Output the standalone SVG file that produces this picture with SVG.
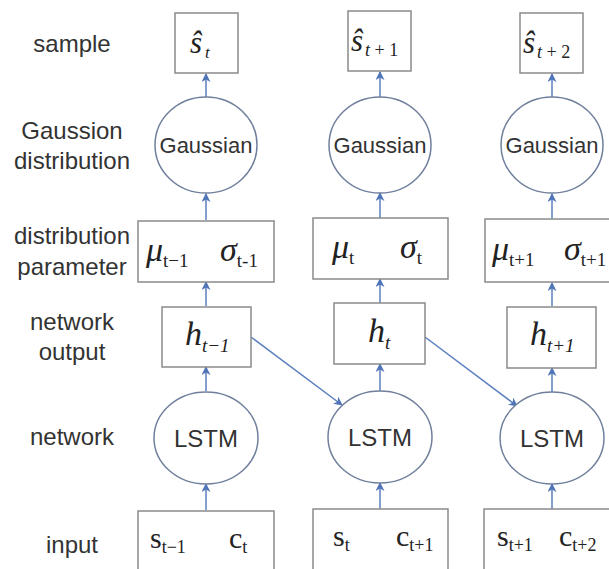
<svg xmlns="http://www.w3.org/2000/svg" width="609" height="569" viewBox="0 0 609 569">
<style>
.lbl{font-family:"Liberation Sans",Arial,sans-serif;font-size:24px;fill:#333;text-anchor:middle}
.box{fill:#fff;stroke:#8a8a8a;stroke-width:1.5}
.cir{fill:#fff;stroke:#6f7f9c;stroke-width:1.5}
.ct{font-family:"Liberation Sans",Arial,sans-serif;fill:#333;text-anchor:middle}
.m{font-family:"Liberation Serif","Times New Roman",serif;fill:#222}
.i{font-style:italic}
.con{stroke:#5b7fbf;stroke-width:1.5;fill:none;marker-end:url(#ah)}
</style>
<defs>
<marker id="ah" viewBox="0 0 10 10" refX="9" refY="5" markerWidth="9" markerHeight="9" markerUnits="userSpaceOnUse" orient="auto">
<path d="M0,0 L10,5 L0,10 L3,5 z" fill="#4f75b8"/>
</marker>
</defs>
<rect width="609" height="569" fill="#fff"/>
<g id="labels">
<text class="lbl" x="72" y="52">sample</text>
<text class="lbl" x="72" y="139">Gaussion</text>
<text class="lbl" x="72" y="169">distribution</text>
<text class="lbl" x="72" y="244">distribution</text>
<text class="lbl" x="72" y="275">parameter</text>
<text class="lbl" x="72" y="330">network</text>
<text class="lbl" x="72" y="360">output</text>
<text class="lbl" x="72" y="445">network</text>
<text class="lbl" x="72" y="553">input</text>
</g>
<g id="connectors">
<line class="con" x1="206" y1="97" x2="206" y2="74"/>
<line class="con" x1="206" y1="220" x2="206" y2="194"/>
<line class="con" x1="206" y1="306" x2="206" y2="282"/>
<line class="con" x1="206" y1="391" x2="206" y2="367"/>
<line class="con" x1="206" y1="510" x2="206" y2="484"/>
<line class="con" x1="380" y1="97" x2="380" y2="72"/>
<line class="con" x1="380" y1="218" x2="380" y2="193"/>
<line class="con" x1="380" y1="303" x2="380" y2="279"/>
<line class="con" x1="380" y1="391" x2="380" y2="364"/>
<line class="con" x1="380" y1="509" x2="380" y2="483"/>
<line class="con" x1="552" y1="97" x2="552" y2="74"/>
<line class="con" x1="552" y1="219" x2="552" y2="194"/>
<line class="con" x1="552" y1="306" x2="552" y2="283"/>
<line class="con" x1="552" y1="392" x2="552" y2="368"/>
<line class="con" x1="552" y1="509" x2="552" y2="484"/>
<line class="con" x1="251" y1="337" x2="342" y2="405"/>
<line class="con" x1="425" y1="337" x2="517" y2="406"/>
</g>
<g id="sample1"><rect class="box" x="175" y="13" width="63" height="60"/>
<text class="m i" x="190" y="53" font-size="31">ŝ<tspan font-size="17" dx="3" dy="5">t</tspan></text></g>
<g id="sample2"><rect class="box" x="348" y="11" width="63" height="60"/>
<text class="m i" x="351" y="51" font-size="31">ŝ<tspan font-size="18" dx="2" dy="5">t</tspan><tspan font-size="18" font-style="normal"> + 1</tspan></text></g>
<g id="sample3"><rect class="box" x="520" y="13" width="63" height="60"/>
<text class="m i" x="523" y="53" font-size="31">ŝ<tspan font-size="18" dx="2" dy="5">t</tspan><tspan font-size="18" font-style="normal"> + 2</tspan></text></g>
<g id="gauss1"><ellipse class="cir" cx="206" cy="145" rx="51" ry="48"/><text class="ct" x="206" y="153" font-size="22">Gaussian</text></g>
<g id="gauss2"><ellipse class="cir" cx="380" cy="145" rx="51" ry="48"/><text class="ct" x="380" y="153" font-size="22">Gaussian</text></g>
<g id="gauss3"><ellipse class="cir" cx="552" cy="145" rx="51" ry="48"/><text class="ct" x="552" y="153" font-size="22">Gaussian</text></g>
<g id="param1"><rect class="box" x="138" y="221" width="136" height="61"/>
<text class="m" x="146" y="261" font-size="34"><tspan class="i">μ</tspan><tspan font-size="19" dy="6">t−1</tspan></text>
<text class="m" x="220" y="261" font-size="34"><tspan class="i">σ</tspan><tspan font-size="19" dy="6">t-1</tspan></text></g>
<g id="param2"><rect class="box" x="313" y="218" width="135" height="61"/>
<text class="m" x="332" y="258" font-size="34"><tspan class="i">μ</tspan><tspan font-size="19" dy="6">t</tspan></text>
<text class="m" x="400" y="258" font-size="34"><tspan class="i">σ</tspan><tspan font-size="19" dy="6">t</tspan></text></g>
<g id="param3"><rect class="box" x="485" y="219" width="136" height="63"/>
<text class="m" x="492" y="260" font-size="34"><tspan class="i">μ</tspan><tspan font-size="19" dy="6">t+1</tspan></text>
<text class="m" x="564" y="260" font-size="34"><tspan class="i">σ</tspan><tspan font-size="19" dy="6">t+1</tspan></text></g>
<g id="h1"><rect class="box" x="162" y="307" width="89" height="60"/>
<text class="m i" x="185" y="345" font-size="34">h<tspan font-size="19" dy="7">t−1</tspan></text></g>
<g id="h2"><rect class="box" x="334" y="303" width="91" height="61"/>
<text class="m i" x="368" y="342" font-size="34">h<tspan font-size="19" dy="7">t</tspan></text></g>
<g id="h3"><rect class="box" x="507" y="307" width="89" height="61"/>
<text class="m i" x="530" y="345" font-size="34">h<tspan font-size="19" dy="7">t+1</tspan></text></g>
<g id="lstm1"><ellipse class="cir" cx="206" cy="438" rx="52" ry="46"/><text class="ct" x="206" y="447" font-size="24">LSTM</text></g>
<g id="lstm2"><ellipse class="cir" cx="380" cy="437" rx="52" ry="46"/><text class="ct" x="380" y="446" font-size="24">LSTM</text></g>
<g id="lstm3"><ellipse class="cir" cx="552" cy="438" rx="52" ry="46"/><text class="ct" x="552" y="447" font-size="24">LSTM</text></g>
<g id="input1"><rect class="box" x="138" y="511" width="136" height="64"/>
<text class="m" x="150" y="548" font-size="30">s<tspan font-size="18" dy="5">t−1</tspan></text>
<text class="m" x="229" y="548" font-size="30">c<tspan font-size="18" dy="5">t</tspan></text></g>
<g id="input2"><rect class="box" x="313" y="509" width="135" height="66"/>
<text class="m" x="333" y="546" font-size="30">s<tspan font-size="18" dy="5">t</tspan></text>
<text class="m" x="396" y="546" font-size="30">c<tspan font-size="18" dy="5">t+1</tspan></text></g>
<g id="input3"><rect class="box" x="484" y="509" width="136" height="66"/>
<text class="m" x="497" y="546" font-size="30">s<tspan font-size="18" dy="5">t+1</tspan></text>
<text class="m" x="559" y="546" font-size="30">c<tspan font-size="18" dy="5">t+2</tspan></text></g>
</svg>
